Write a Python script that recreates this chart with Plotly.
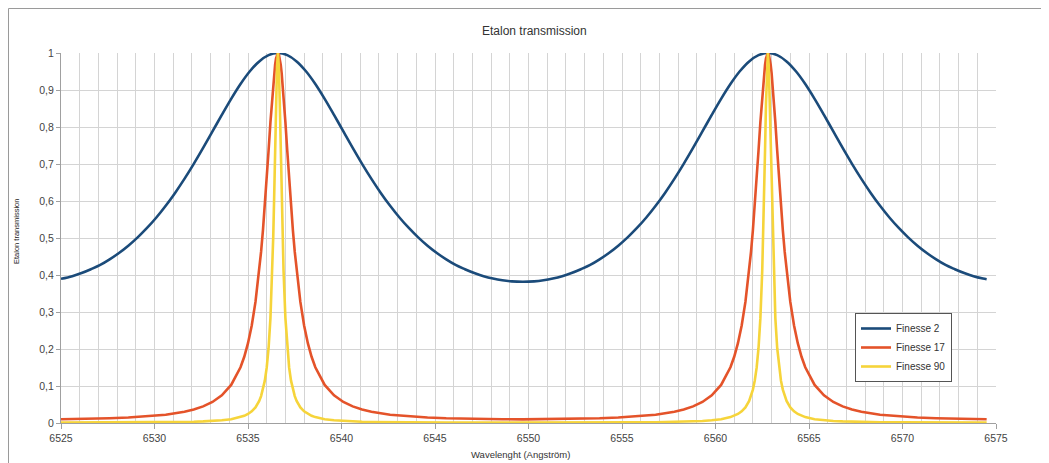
import plotly.graph_objects as go

# ---- data ----
title_text = "Etalon transmission"
x_title = "Wavelenght (Angström)"
y_title = "Etalon transmission"
series_names = ["Finesse 2", "Finesse 17", "Finesse 90"]

x_tick_vals = [6525, 6530, 6535, 6540, 6545, 6550, 6555, 6560, 6565, 6570, 6575]
y_tick_vals = [0, 0.1, 0.2, 0.3, 0.4, 0.5, 0.6, 0.7, 0.8, 0.9, 1]
y_tick_text = ["0", "0,1", "0,2", "0,3", "0,4", "0,5", "0,6", "0,7", "0,8", "0,9", "1"]

wl_broad = [6525.0, 6525.6, 6526.1, 6526.6, 6527.1, 6527.6, 6528.1, 6528.6, 6529.1, 6529.6,
            6530.1, 6530.6, 6531.1, 6531.6, 6532.1, 6532.6, 6533.1, 6533.6, 6534.1, 6534.6,
            6535.1, 6535.6, 6536.1, 6536.6, 6537.1, 6537.6, 6538.1, 6538.6, 6539.1, 6539.6,
            6540.1, 6540.6, 6541.1, 6541.6, 6542.1, 6542.6, 6543.1, 6543.6, 6544.1, 6544.6,
            6545.1, 6545.6, 6546.1, 6546.6, 6547.1, 6547.6, 6548.1, 6548.6, 6549.1, 6549.7,
            6550.3, 6550.8, 6551.3, 6551.8, 6552.3, 6552.8, 6553.3, 6553.8, 6554.3, 6554.8,
            6555.3, 6555.8, 6556.3, 6556.8, 6557.3, 6557.8, 6558.3, 6558.8, 6559.3, 6559.8,
            6560.3, 6560.8, 6561.3, 6561.8, 6562.3, 6562.8, 6563.3, 6563.8, 6564.3, 6564.8,
            6565.3, 6565.8, 6566.3, 6566.8, 6567.3, 6567.8, 6568.3, 6568.8, 6569.3, 6569.8,
            6570.3, 6570.8, 6571.3, 6571.8, 6572.3, 6572.8, 6573.3, 6573.8, 6574.3, 6574.5]

finesse2 = [0.3896, 0.3969, 0.4053, 0.4156, 0.4271, 0.4421, 0.4594, 0.4792, 0.5017, 0.5271,
            0.5555, 0.5871, 0.6219, 0.6598, 0.7005, 0.7435, 0.7880, 0.8328, 0.8762, 0.9163,
            0.9507, 0.9773, 0.9942, 1.0, 0.9942, 0.9773, 0.9507, 0.9163, 0.8762, 0.8328,
            0.7880, 0.7435, 0.7005, 0.6598, 0.6219, 0.5871, 0.5555, 0.5271, 0.5017, 0.4792,
            0.4594, 0.4421, 0.4271, 0.4156, 0.4053, 0.3969, 0.3905, 0.3858, 0.3829, 0.3817,
            0.3829, 0.3858, 0.3905, 0.3969, 0.4053, 0.4156, 0.4271, 0.4421, 0.4594, 0.4792,
            0.5017, 0.5271, 0.5555, 0.5871, 0.6219, 0.6598, 0.7005, 0.7435, 0.7880, 0.8328,
            0.8762, 0.9163, 0.9507, 0.9773, 0.9942, 1.0, 0.9942, 0.9773, 0.9507, 0.9163,
            0.8762, 0.8328, 0.7880, 0.7435, 0.7005, 0.6598, 0.6219, 0.5871, 0.5555, 0.5271,
            0.5017, 0.4792, 0.4594, 0.4421, 0.4271, 0.4156, 0.4053, 0.3969, 0.3905, 0.3885]

wl_narrow = [6525.0, 6525.6, 6526.6, 6527.6, 6528.6, 6529.6, 6530.6, 6531.6, 6532.1, 6532.6,
             6533.1, 6533.6, 6534.1, 6534.6, 6534.8, 6535.0, 6535.2, 6535.4, 6535.6, 6535.7,
             6535.8, 6535.9, 6536.0, 6536.1, 6536.2, 6536.3, 6536.35, 6536.4, 6536.45, 6536.5,
             6536.55, 6536.6,
             6536.65, 6536.7, 6536.75, 6536.8, 6536.85, 6536.9, 6537.0, 6537.1, 6537.2, 6537.3,
             6537.4, 6537.5, 6537.6, 6537.8, 6538.0, 6538.2, 6538.4, 6538.6, 6539.1, 6539.6,
             6540.1, 6540.6, 6541.1, 6541.6, 6542.6, 6543.6, 6544.6, 6545.6, 6546.6, 6547.6,
             6548.6, 6549.7,
             6550.8, 6551.8, 6552.8, 6553.8, 6554.8, 6555.8, 6556.8, 6557.8, 6558.3, 6558.8,
             6559.3, 6559.8, 6560.3, 6560.8, 6561.0, 6561.2, 6561.4, 6561.6, 6561.8, 6561.9,
             6562.0, 6562.1, 6562.2, 6562.3, 6562.4, 6562.5, 6562.55, 6562.6, 6562.65, 6562.7,
             6562.75, 6562.8,
             6562.85, 6562.9, 6562.95, 6563.0, 6563.05, 6563.1, 6563.2, 6563.3, 6563.4, 6563.5,
             6563.6, 6563.7, 6563.8, 6564.0, 6564.2, 6564.4, 6564.6, 6564.8, 6565.3, 6565.8,
             6566.3, 6566.8, 6567.3, 6567.8, 6568.8, 6569.8, 6570.8, 6571.8, 6572.8, 6573.8,
             6574.5]

finesse17 = [0.0102, 0.0106, 0.0114, 0.0127, 0.0147, 0.0177, 0.0225, 0.0305, 0.0365, 0.0449,
             0.0568, 0.0747, 0.1029, 0.1506, 0.1790, 0.2157, 0.2637, 0.3272, 0.4114, 0.4629,
             0.5215, 0.5872, 0.6593, 0.7358, 0.8131, 0.8855, 0.9176, 0.9456, 0.9687, 0.9858,
             0.9964, 1.0,
             0.9964, 0.9858, 0.9687, 0.9456, 0.9176, 0.8855, 0.8131, 0.7358, 0.6593, 0.5872,
             0.5215, 0.4629, 0.4114, 0.3272, 0.2637, 0.2157, 0.1790, 0.1506, 0.1029, 0.0747,
             0.0568, 0.0449, 0.0365, 0.0305, 0.0225, 0.0177, 0.0147, 0.0127, 0.0114, 0.0106,
             0.0101, 0.0099,
             0.0101, 0.0106, 0.0114, 0.0127, 0.0147, 0.0177, 0.0225, 0.0305, 0.0365, 0.0449,
             0.0568, 0.0747, 0.1029, 0.1506, 0.1790, 0.2157, 0.2637, 0.3272, 0.4114, 0.4629,
             0.5215, 0.5872, 0.6593, 0.7358, 0.8131, 0.8855, 0.9176, 0.9456, 0.9687, 0.9858,
             0.9964, 1.0,
             0.9964, 0.9858, 0.9687, 0.9456, 0.9176, 0.8855, 0.8131, 0.7358, 0.6593, 0.5872,
             0.5215, 0.4629, 0.4114, 0.3272, 0.2637, 0.2157, 0.1790, 0.1506, 0.1029, 0.0747,
             0.0568, 0.0449, 0.0365, 0.0305, 0.0225, 0.0177, 0.0147, 0.0127, 0.0114, 0.0106,
             0.0102]

finesse90 = [0.0009, 0.0010, 0.0011, 0.0012, 0.0014, 0.0016, 0.0021, 0.0029, 0.0034, 0.0043,
             0.0055, 0.0073, 0.0103, 0.0159, 0.0194, 0.0244, 0.0315, 0.0423, 0.0597, 0.0727,
             0.0902, 0.1145, 0.1496, 0.2021, 0.2834, 0.4127, 0.5030, 0.6126, 0.7376, 0.8634,
             0.9620, 1.0,
             0.9620, 0.8634, 0.7376, 0.6126, 0.5030, 0.4127, 0.2834, 0.2021, 0.1496, 0.1145,
             0.0902, 0.0727, 0.0597, 0.0423, 0.0315, 0.0244, 0.0194, 0.0159, 0.0103, 0.0073,
             0.0055, 0.0043, 0.0034, 0.0029, 0.0021, 0.0016, 0.0014, 0.0012, 0.0011, 0.0010,
             0.0009, 0.0009,
             0.0009, 0.0010, 0.0011, 0.0012, 0.0014, 0.0016, 0.0021, 0.0029, 0.0034, 0.0043,
             0.0055, 0.0073, 0.0103, 0.0159, 0.0194, 0.0244, 0.0315, 0.0423, 0.0597, 0.0727,
             0.0902, 0.1145, 0.1496, 0.2021, 0.2834, 0.4127, 0.5030, 0.6126, 0.7376, 0.8634,
             0.9620, 1.0,
             0.9620, 0.8634, 0.7376, 0.6126, 0.5030, 0.4127, 0.2834, 0.2021, 0.1496, 0.1145,
             0.0902, 0.0727, 0.0597, 0.0423, 0.0315, 0.0244, 0.0194, 0.0159, 0.0103, 0.0073,
             0.0055, 0.0043, 0.0034, 0.0029, 0.0021, 0.0016, 0.0014, 0.0012, 0.0011, 0.0010,
             0.0009]

colors = ["#1b4b7a", "#e4532a", "#f6d43a"]
FONT = "Liberation Sans, Arial, sans-serif"

fig = go.Figure()
fig.add_trace(go.Scatter(x=wl_broad, y=finesse2, mode="lines", name=series_names[0],
                         line=dict(color=colors[0], width=2.6, shape="spline", smoothing=1.0)))
fig.add_trace(go.Scatter(x=wl_narrow, y=finesse17, mode="lines", name=series_names[1],
                         line=dict(color=colors[1], width=2.6)))
fig.add_trace(go.Scatter(x=wl_narrow, y=finesse90, mode="lines", name=series_names[2],
                         line=dict(color=colors[2], width=2.6)))

# the page body has an 8px margin; work in page pixels and shift
OFF = 8
W, H = 1041, 455
PL, PR, PT, PB = 61, 996, 53, 423          # plot area in page pixels
L = PL - OFF
T = PT - OFF
R = W - (PR - OFF)
B = H - (PB - OFF)
pw, ph = PR - PL, PB - PT

def px(xp):
    return (xp - PL) / pw

def py(yp):
    return (PB - yp) / ph

fig.update_layout(
    width=W, height=H,
    margin=dict(l=L, r=R, t=T, b=B, pad=0),
    paper_bgcolor="white", plot_bgcolor="white",
    font=dict(family=FONT, size=11, color="#444444"),
    showlegend=True,
    legend=dict(x=px(855), y=py(313), xanchor="left", yanchor="top",
                bgcolor="white", bordercolor="#555555", borderwidth=1,
                font=dict(family=FONT, size=10, color="#333333"),
                tracegroupgap=0, itemwidth=30),
    xaxis=dict(range=[6525, 6575], tickvals=x_tick_vals,
               showgrid=True, gridcolor="#d4d4d4", gridwidth=1,
               minor=dict(dtick=1, tick0=6525, showgrid=True, gridcolor="#d4d4d4", gridwidth=1),
               showline=True, linecolor="#a0a0a0", linewidth=1,
               ticks="outside", ticklen=5, tickcolor="#a0a0a0",
               tickfont=dict(family=FONT, size=10.5, color="#444444"),
               zeroline=False),
    yaxis=dict(range=[0, 1], tickvals=y_tick_vals, ticktext=y_tick_text,
               showgrid=True, gridcolor="#d4d4d4", gridwidth=1,
               showline=True, linecolor="#a0a0a0", linewidth=1,
               ticks="outside", ticklen=4, tickcolor="#a0a0a0",
               tickfont=dict(family=FONT, size=10.5, color="#444444"),
               zeroline=False),
)

fig.add_annotation(text=title_text, x=px(534), y=py(31), xref="paper", yref="paper",
                   showarrow=False, xanchor="center", yanchor="middle",
                   font=dict(family=FONT, size=12, color="#333333"))
fig.add_annotation(text=x_title, x=px(520), y=py(454), xref="paper", yref="paper",
                   showarrow=False, xanchor="center", yanchor="middle",
                   font=dict(family=FONT, size=9.5, color="#333333"))
fig.add_annotation(text=y_title, x=px(16), y=py(232), xref="paper", yref="paper",
                   showarrow=False, xanchor="center", yanchor="middle", textangle=-90,
                   font=dict(family=FONT, size=7.5, color="#222222"))

# outer chart frame (top and left edges visible)
fig.add_shape(type="line", xref="paper", yref="paper", x0=px(8.5), x1=px(1049), y0=py(8.5), y1=py(8.5),
              line=dict(color="#9a9a9a", width=1), layer="above")
fig.add_shape(type="line", xref="paper", yref="paper", x0=px(8.5), x1=px(8.5), y0=py(8.5), y1=py(463),
              line=dict(color="#9a9a9a", width=1), layer="above")

fig.write_html("out.html")
